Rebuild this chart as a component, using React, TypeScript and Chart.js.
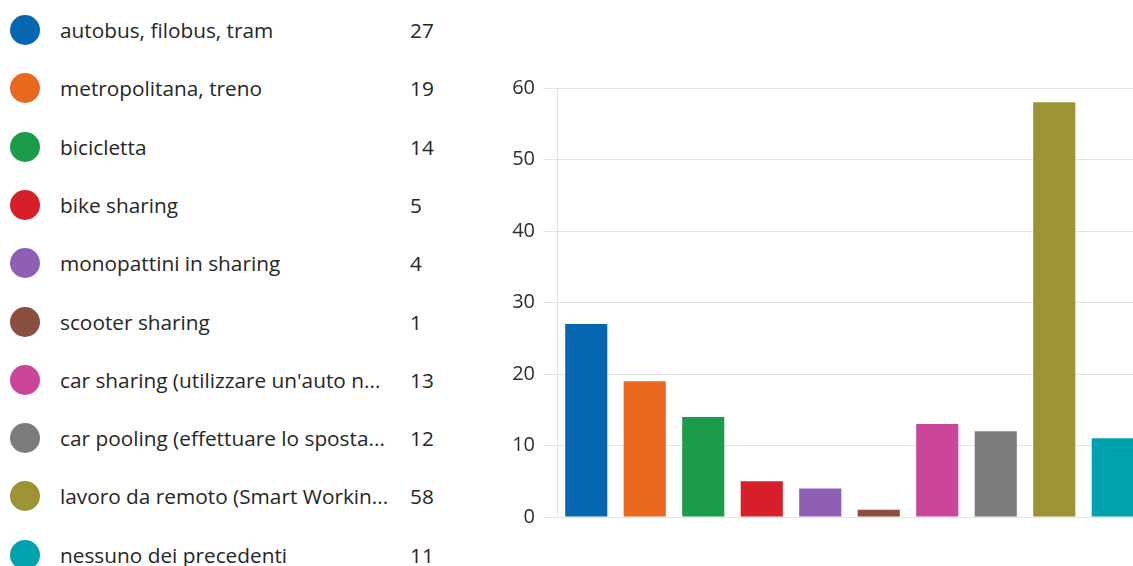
import React, { useEffect, useRef } from "react";
import { Chart, registerables } from "chart.js";

Chart.register(...registerables);

const categories: string[] = [
  "autobus, filobus, tram",
  "metropolitana, treno",
  "bicicletta",
  "bike sharing",
  "monopattini in sharing",
  "scooter sharing",
  "car sharing (utilizzare un'auto n...",
  "car pooling (effettuare lo sposta...",
  "lavoro da remoto (Smart Workin...",
  "nessuno dei precedenti",
];

const counts: number[] = [27, 19, 14, 5, 4, 1, 13, 12, 58, 11];

const colors: string[] = [
  "#0567b0",
  "#e8691e",
  "#1b9c48",
  "#d61f29",
  "#8e5fb4",
  "#8a4f3f",
  "#cb4699",
  "#7c7c7c",
  "#9c9434",
  "#00a2ad",
];

const yTicks = { min: 0, max: 60, step: 10 };

const FONT = "'Open Sans', 'Noto Sans', sans-serif";

export default function App() {
  const canvasRef = useRef<HTMLCanvasElement | null>(null);

  useEffect(() => {
    const canvas = canvasRef.current;
    if (!canvas) return;
    const chart = new Chart(canvas, {
      type: "bar",
      data: {
        labels: categories,
        datasets: [
          {
            data: counts,
            backgroundColor: colors,
            borderWidth: 0,
            barPercentage: 0.72,
            categoryPercentage: 1,
          },
        ],
      },
      options: {
        animation: false,
        responsive: false,
        devicePixelRatio: 1,
        layout: { padding: { top: 88, bottom: 49, left: 0, right: 0 } },
        plugins: {
          legend: { display: false },
          tooltip: { enabled: false },
        },
        scales: {
          x: { display: false },
          y: {
            min: yTicks.min,
            max: yTicks.max,
            afterFit: (scale: any) => {
              scale.width = 77;
            },
            ticks: {
              stepSize: yTicks.step,
              padding: 8,
              color: "#2e2e2e",
              font: { family: FONT, size: 20 },
            },
            grid: {
              color: "#e4e4e4",
              lineWidth: 1,
              tickLength: 14,
              drawTicks: true,
            },
            border: { display: true, color: "#e4e4e4", width: 1 },
          },
        },
      },
    });
    return () => chart.destroy();
  }, []);

  return (
    <div
      style={{
        position: "fixed",
        left: 0,
        top: 0,
        width: 1133,
        height: 566,
        overflow: "hidden",
        background: "#ffffff",
      }}
    >
      {categories.map((c, i) => (
        <div
          key={i}
          style={{
            position: "absolute",
            left: 0,
            top: 30 + i * 58.3 - 20,
            height: 40,
            width: 460,
            display: "flex",
            alignItems: "center",
            fontFamily: FONT,
            fontSize: 20.8,
            color: "#262626",
          }}
        >
          <span
            style={{
              position: "absolute",
              left: 10,
              top: 5,
              width: 30,
              height: 30,
              borderRadius: "50%",
              background: colors[i],
            }}
          />
          <span style={{ position: "absolute", left: 60, whiteSpace: "nowrap" }}>{c}</span>
          <span style={{ position: "absolute", left: 410 }}>{counts[i]}</span>
        </div>
      ))}
      <canvas
        ref={canvasRef}
        width={662}
        height={566}
        style={{ position: "absolute", left: 480, top: 0, width: 662, height: 566 }}
      />
    </div>
  );
}
